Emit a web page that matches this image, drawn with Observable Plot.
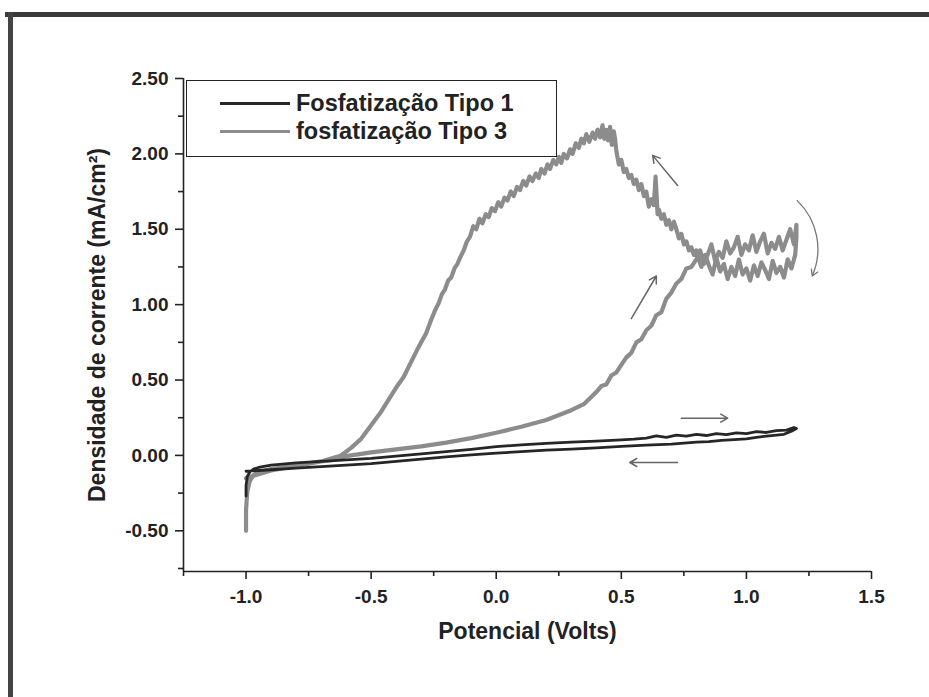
<!DOCTYPE html>
<html>
<head>
<meta charset="utf-8">
<script src="https://cdn.jsdelivr.net/npm/d3@7"></script>
<script src="https://cdn.jsdelivr.net/npm/@observablehq/plot@0.6"></script>
<style>
  html, body { margin: 0; padding: 0; background: #fff; }
  #wrap { position: relative; width: 929px; height: 697px; overflow: hidden; background: #fff;
          font-family: "Liberation Sans", Arial, sans-serif; font-weight: bold; }
  #wrap svg { position: absolute; left: 0; top: 0; }
  .scanTop { position: absolute; left: 5px; right: 0; top: 12px; height: 5px; background: #3a3a3a; }
  .scanLeft { position: absolute; left: 8px; top: 12px; width: 5px; height: 685px; background: #444; }
  .legend { position: absolute; left: 186px; top: 80px; width: 371px; height: 77px;
            border: 1.5px solid #222; background: #fff; box-sizing: border-box; }
  .legrow { position: absolute; left: 0; height: 28px; display: flex; align-items: center; }
  .legrow .sw { width: 70px; height: 3px; margin-left: 33px; margin-right: 6px; }
  .legrow span { font-size: 23.5px; color: #222; white-space: nowrap; }
</style>
</head>
<body>
<div id="wrap">
  <div class="scanTop"></div>
  <div class="scanLeft"></div>
</div>
<script>
// ---- Data ----
const xDomain = [-1.25, 1.5];
const yDomain = [-0.77, 2.5];
const xMajorTicks = [-1.0, -0.5, 0.0, 0.5, 1.0, 1.5];
const xMinorTicks = [-1.25, -0.75, -0.25, 0.25, 0.75, 1.25];
const yMajorTicks = [-0.5, 0.0, 0.5, 1.0, 1.5, 2.0, 2.5];
const yMinorTicks = [-0.75, -0.25, 0.25, 0.75, 1.25, 1.75, 2.25];

const seriesNames = ["Fosfatização Tipo 1", "fosfatização Tipo 3"];
const seriesColors = ["#262626", "#8c8c8c"];

// Tipo 1 (black): forward (upper) branch then return (lower) branch
const tipo1V = [-1.0, -1.0, -0.995, -0.985, -0.97, -0.95, -0.9, -0.8, -0.7, -0.6, -0.5, -0.4, -0.3, -0.2, -0.1, 0.0,
  0.1, 0.2, 0.3, 0.4, 0.5, 0.55, 0.6, 0.64, 0.68, 0.72, 0.76, 0.8, 0.84, 0.88, 0.92, 0.96, 1.0, 1.04, 1.08, 1.12, 1.16, 1.19, 1.2,
  1.18, 1.15, 1.12, 1.08, 1.04, 1.0, 0.95, 0.9, 0.85, 0.8, 0.75, 0.7, 0.6, 0.5, 0.4, 0.3, 0.2, 0.1, 0.0,
  -0.1, -0.2, -0.3, -0.4, -0.5, -0.6, -0.7, -0.8, -0.9, -0.95, -0.98, -1.0];
const tipo1I = [-0.27, -0.2, -0.14, -0.11, -0.09, -0.08, -0.065, -0.05, -0.04, -0.03, -0.02, -0.005, 0.01, 0.025, 0.04, 0.058,
  0.07, 0.08, 0.088, 0.095, 0.103, 0.108, 0.115, 0.13, 0.12, 0.135, 0.128, 0.14, 0.132, 0.145, 0.138, 0.15, 0.145, 0.158, 0.152, 0.165, 0.168, 0.185, 0.178,
  0.16, 0.14, 0.135, 0.128, 0.12, 0.11, 0.105, 0.1, 0.092, 0.088, 0.082, 0.075, 0.068, 0.06, 0.05, 0.042, 0.035, 0.025, 0.015,
  0.003, -0.01, -0.025, -0.04, -0.055, -0.065, -0.075, -0.085, -0.095, -0.1, -0.103, -0.105];

// Tipo 3 (gray): forward branch, noisy plateau, return branch with peak
const tipo3V = [-1.0, -1.0, -0.995, -0.985, -0.97, -0.95, -0.9, -0.8, -0.7, -0.65, -0.6, -0.5, -0.4, -0.3, -0.2, -0.1, 0.0,
  0.1, 0.2, 0.3, 0.35, 0.4, 0.42, 0.44, 0.46, 0.48, 0.5, 0.52, 0.54, 0.56, 0.58, 0.6, 0.62, 0.64, 0.66, 0.68, 0.7, 0.72, 0.74, 0.76, 0.78,
  0.80, 0.815, 0.83, 0.845, 0.86, 0.875, 0.89, 0.905, 0.92, 0.935, 0.95, 0.965, 0.98, 0.995, 1.01, 1.025, 1.04, 1.055, 1.07, 1.085,
  1.10, 1.115, 1.13, 1.145, 1.16, 1.175, 1.19, 1.20,
  1.20, 1.195, 1.18, 1.165, 1.15, 1.135, 1.12, 1.105, 1.09, 1.075, 1.06, 1.045, 1.03, 1.015, 1.0, 0.985, 0.97, 0.955, 0.94, 0.925,
  0.91, 0.895, 0.88, 0.865, 0.85, 0.835, 0.82, 0.81,
  0.80, 0.79, 0.78, 0.77, 0.76, 0.75, 0.74, 0.73, 0.72, 0.71, 0.70, 0.69, 0.68, 0.67, 0.66, 0.65, 0.645, 0.637, 0.63, 0.62,
  0.61, 0.60, 0.59, 0.58, 0.57, 0.56, 0.55, 0.54, 0.53, 0.52, 0.51, 0.50, 0.49, 0.48, 0.475,
  0.47, 0.462, 0.455, 0.447, 0.44, 0.432, 0.425, 0.415, 0.405, 0.395, 0.385, 0.372, 0.36, 0.35, 0.34, 0.33, 0.318, 0.305,
  0.295, 0.283, 0.27, 0.26, 0.25, 0.24, 0.228, 0.215, 0.205, 0.193, 0.18, 0.17, 0.158, 0.145, 0.133, 0.12, 0.108, 0.095,
  0.083, 0.07, 0.058, 0.045, 0.033, 0.02, 0.008, -0.005, -0.018, -0.03, -0.042, -0.055, -0.067, -0.08, -0.092, -0.105,
  -0.117, -0.13, -0.142, -0.155, -0.167, -0.18, -0.192, -0.205, -0.217, -0.23, -0.245, -0.26, -0.28, -0.31,
  -0.34, -0.37, -0.40, -0.43, -0.46, -0.50, -0.54, -0.58, -0.62, -0.7, -0.8, -0.9, -0.96, -1.0];
const tipo3I = [-0.5, -0.36, -0.24, -0.17, -0.13, -0.11, -0.09, -0.065, -0.04, -0.03, -0.005, 0.02, 0.04, 0.06, 0.085, 0.115, 0.15,
  0.19, 0.235, 0.3, 0.34, 0.42, 0.46, 0.47, 0.53, 0.55, 0.6, 0.65, 0.68, 0.75, 0.77, 0.83, 0.86, 0.93, 0.95, 1.04, 1.08, 1.14, 1.17, 1.24, 1.25,
  1.30, 1.36, 1.27, 1.33, 1.40, 1.29, 1.35, 1.31, 1.42, 1.34, 1.38, 1.45, 1.33, 1.40, 1.36, 1.46, 1.35, 1.42, 1.47, 1.34,
  1.41, 1.37, 1.45, 1.36, 1.43, 1.50, 1.40, 1.53,
  1.45, 1.33, 1.24, 1.30, 1.18, 1.25, 1.21, 1.29, 1.17, 1.23, 1.28, 1.19, 1.26, 1.16, 1.24, 1.20, 1.30, 1.19, 1.25, 1.17,
  1.27, 1.22, 1.31, 1.20, 1.26, 1.33, 1.25, 1.30,
  1.36, 1.33, 1.38, 1.36, 1.42, 1.4, 1.47, 1.44, 1.5, 1.55, 1.5, 1.56, 1.53, 1.6, 1.57, 1.63, 1.6, 1.85, 1.66, 1.7,
  1.65, 1.75, 1.72, 1.8, 1.76, 1.83, 1.8, 1.86, 1.84, 1.9, 1.88, 1.96, 1.93, 2.02, 2.1,
  2.15, 2.06, 2.18, 2.09, 2.16, 2.1, 2.19, 2.11, 2.16, 2.1, 2.14, 2.08, 2.13, 2.07, 2.1, 2.04, 2.07, 2.0,
  2.03, 1.97, 2.0, 1.94, 1.98, 1.93, 1.96, 1.9, 1.93, 1.87, 1.9, 1.84, 1.87, 1.82, 1.85, 1.79, 1.82, 1.76,
  1.78, 1.72, 1.75, 1.69, 1.71, 1.65, 1.68, 1.62, 1.64, 1.58, 1.6, 1.54, 1.57, 1.5, 1.52, 1.45,
  1.42, 1.36, 1.32, 1.27, 1.24, 1.18, 1.16, 1.1, 1.07, 1.01, 0.96, 0.9, 0.81, 0.72,
  0.62, 0.52, 0.45, 0.37, 0.29, 0.2, 0.11, 0.05, 0.0, -0.04, -0.07, -0.1, -0.13, -0.15];

// Direction arrows (annotations), in data units
const arrowX1 = [0.74, 0.725, 0.54, 0.725];
const arrowY1 = [0.247, -0.047, 0.907, 1.79];
const arrowX2 = [0.925, 0.534, 0.64, 0.625];
const arrowY2 = [0.247, -0.047, 1.19, 1.99];
const curvedArrow = {x1: 1.203, y1: 1.69, x2: 1.263, y2: 1.19};

const xLabel = "Potencial (Volts)";
const yLabel = "Densidade de corrente (mA/cm²)";

// ---- Build ----
const tipo1 = tipo1V.map((v, i) => ({V: v, I: tipo1I[i]}));
const tipo3 = tipo3V.map((v, i) => ({V: v, I: tipo3I[i]}));
const arrows = arrowX1.map((x, i) => ({x1: x, y1: arrowY1[i], x2: arrowX2[i], y2: arrowY2[i]}));

const font = '"Liberation Sans", Arial, sans-serif';

const chart = Plot.plot({
  width: 929,
  height: 697,
  marginLeft: 183,
  marginRight: 58,
  marginTop: 78,
  marginBottom: 126,
  style: {fontFamily: font, fontWeight: "bold", background: "transparent", color: "#222"},
  x: {domain: xDomain},
  y: {domain: yDomain},
  marks: [
    Plot.ruleX([xDomain[0]], {stroke: "#222", strokeWidth: 1.6}),
    Plot.ruleY([yDomain[0]], {stroke: "#222", strokeWidth: 1.6}),
    Plot.axisX({ticks: xMajorTicks, tickSize: 8, tickPadding: 10, tickFormat: d => d.toFixed(1),
      fontSize: 19, label: null, strokeWidth: 1.6}),
    Plot.axisX({ticks: xMinorTicks, tickSize: 5, tickFormat: () => "", label: null, strokeWidth: 1.6}),
    Plot.axisY({ticks: yMajorTicks, tickSize: 8, tickPadding: 7, tickFormat: d => d.toFixed(2),
      fontSize: 19, label: null, strokeWidth: 1.6}),
    Plot.axisY({ticks: yMinorTicks, tickSize: 5, tickFormat: () => "", label: null, strokeWidth: 1.6}),
    Plot.line(tipo3, {x: "V", y: "I", stroke: seriesColors[1], strokeWidth: 4.2, strokeLinejoin: "round"}),
    Plot.line(tipo1, {x: "V", y: "I", stroke: seriesColors[0], strokeWidth: 2.8, strokeLinejoin: "round"}),
    Plot.arrow(arrows, {x1: "x1", y1: "y1", x2: "x2", y2: "y2", stroke: "#666", strokeWidth: 1.5, headLength: 8}),
    Plot.arrow([curvedArrow], {x1: "x1", y1: "y1", x2: "x2", y2: "y2", bend: 35, stroke: "#777", strokeWidth: 1.3, headLength: 8}),
    Plot.text([xLabel], {frameAnchor: "bottom", dy: 67, fontSize: 23, fontWeight: "bold", fill: "#222"}),
    Plot.text([yLabel], {frameAnchor: "left", textAnchor: "middle", dx: -86, rotate: -90, fontSize: 23, fontWeight: "bold", fill: "#222"})
  ]
});

const wrap = document.getElementById("wrap");
wrap.insertBefore(chart, wrap.firstChild);

// Legend overlay
const legend = document.createElement("div");
legend.className = "legend";
seriesNames.forEach((name, i) => {
  const row = document.createElement("div");
  row.className = "legrow";
  row.style.top = (8 + i * 28) + "px";
  const sw = document.createElement("div");
  sw.className = "sw";
  sw.style.background = seriesColors[i];
  const label = document.createElement("span");
  label.textContent = name;
  row.appendChild(sw);
  row.appendChild(label);
  legend.appendChild(row);
});
wrap.appendChild(legend);
</script>
</body>
</html>
